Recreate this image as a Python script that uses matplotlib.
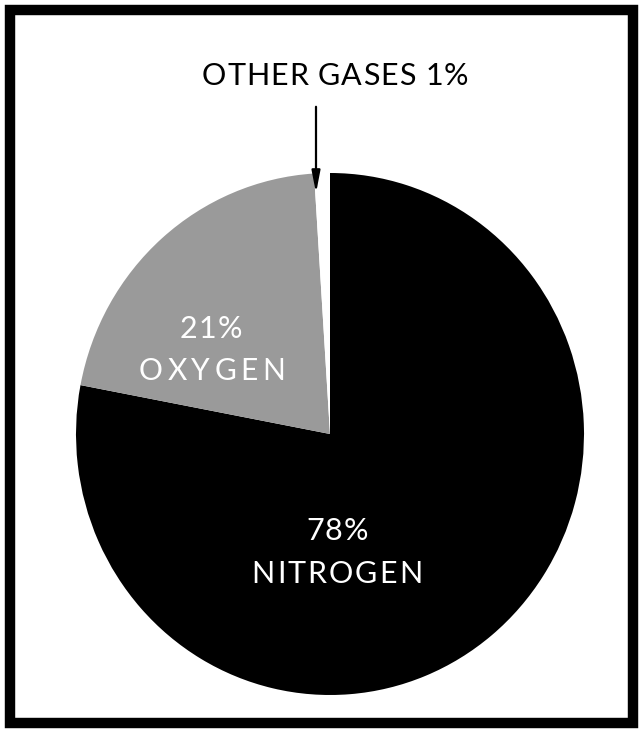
import matplotlib
matplotlib.use("Agg")
import matplotlib.pyplot as plt
from matplotlib.patches import Rectangle
from matplotlib.transforms import ScaledTranslation
from matplotlib.font_manager import FontProperties, findfont
from matplotlib.ft2font import FT2Font

gases = ["NITROGEN", "OXYGEN", "OTHER GASES"]
shares = [78, 21, 1]
colors = ["#000000", "#9a9a9a", "#ffffff"]

W, H = 643, 735
DPI = 100
fig = plt.figure(figsize=(W / DPI, H / DPI), dpi=DPI)
fig.patch.set_facecolor("white")

# frame
fig.patches.append(Rectangle((10 / W, 12 / H), (W - 20) / W, (H - 22) / H,
                             transform=fig.transFigure, fill=False,
                             edgecolor="black", linewidth=7.5))

cx, cy, rx, ry = 330, 434, 254, 261
ax = fig.add_axes([(cx - rx) / W, (H - cy - ry) / H, 2 * rx / W, 2 * ry / H])
ax.pie(shares, colors=colors, startangle=90, counterclock=False,
       wedgeprops=dict(linewidth=0), radius=1.0)
ax.set_xlim(-1, 1)
ax.set_ylim(-1, 1)
ax.set_aspect("auto")
ax.axis("off")


def d(px, py):
    return ((px - cx) / rx, (cy - py) / ry)


FAMILY = "Lato"
fpath = findfont(FontProperties(family=FAMILY))


def tracked(px, py, s, size, color, track):
    ft = FT2Font(fpath)
    ft.set_size(size, DPI)
    adv = [ft.load_char(ord(c)).linearHoriAdvance / 65536.0 for c in s]
    total = sum(adv) + track * (len(s) - 1)
    x0 = -total / 2.0
    pos = x0
    for c, a in zip(s, adv):
        if c != " ":
            tr = ax.transData + ScaledTranslation(pos / DPI, 0, fig.dpi_scale_trans)
            ax.text(*d(px, py), c, color=color, ha="left", va="center",
                    fontsize=size, family=FAMILY, transform=tr, clip_on=False)
        pos += a + track


tracked(211, 329, f"{shares[1]}%", 22, "white", 1)
tracked(212, 371, gases[1], 21.5, "white", 4.5)
tracked(337, 531, f"{shares[0]}%", 22, "white", 1)
tracked(337, 574, gases[0], 22, "white", 2)
tracked(335, 76, f"{gases[2]} {shares[2]}%", 22, "black", 1)

ax.annotate("", xy=d(316, 196), xytext=d(316, 104),
            arrowprops=dict(arrowstyle="-|>,head_length=1.3,head_width=0.25",
                            color="black", lw=1.6), annotation_clip=False)

fig.savefig("out.png", dpi=DPI, facecolor="white")
